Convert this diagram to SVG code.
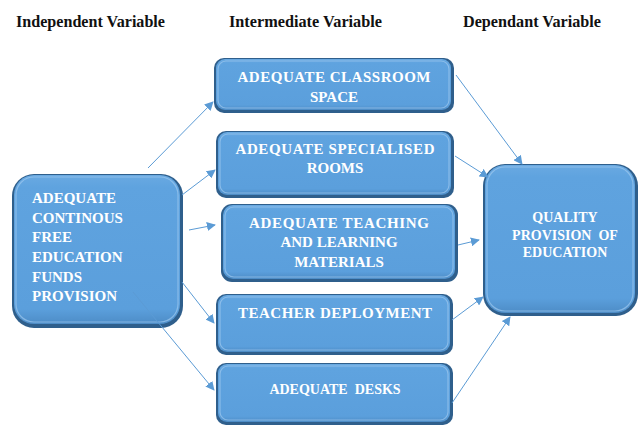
<svg xmlns="http://www.w3.org/2000/svg" width="638" height="425" viewBox="0 0 638 425" font-family="Liberation Serif, Times New Roman, serif" font-weight="bold">
<defs>
<style>
.hd{font-size:16px;fill:#111;}
.bt{font-size:15px;fill:#fff;}
.st{font-size:14px;fill:#fff;}
.edge{fill:#2f5f8c;}
.face{fill:url(#g);}
.hl{fill:none;stroke:#9cc8ee;stroke-width:1.2;opacity:0.7;}
.cn{stroke:#5b9bd5;stroke-width:1;fill:none;marker-end:url(#ah);}
</style>
<linearGradient id="g" x1="0" y1="0" x2="0" y2="1">
<stop offset="0" stop-color="#6aaae2"/>
<stop offset="0.08" stop-color="#5fa3df"/>
<stop offset="0.9" stop-color="#5b9fdc"/>
<stop offset="1" stop-color="#4d8cc6"/>
</linearGradient>
<marker id="ah" viewBox="0 0 10 10" refX="9" refY="5" markerWidth="9" markerHeight="9" markerUnits="userSpaceOnUse" orient="auto">
<path d="M0,0 L10,5 L0,10 z" fill="#5b9bd5"/>
</marker>
</defs>
<rect width="638" height="425" fill="#fff"/>
<g id="headings">
<text class="hd" x="16" y="27" textLength="149" lengthAdjust="spacingAndGlyphs">Independent Variable</text>
<text class="hd" x="229" y="27" textLength="153" lengthAdjust="spacingAndGlyphs">Intermediate Variable</text>
<text class="hd" x="463" y="27" textLength="138" lengthAdjust="spacingAndGlyphs">Dependant Variable</text>
</g>
<g id="n-left">
<rect class="edge" x="12" y="174" width="171" height="154" rx="22"/>
<rect class="face" x="14" y="175" width="166" height="149" rx="20"/>
<rect class="hl" x="16" y="177" width="162" height="145" rx="18"/>
<text class="bt" x="32" y="203">ADEQUATE</text>
<text class="bt" x="32" y="223">CONTINOUS</text>
<text class="bt" x="32" y="242">FREE</text>
<text class="bt" x="32" y="262">EDUCATION</text>
<text class="bt" x="32" y="282">FUNDS</text>
<text class="bt" x="32" y="301">PROVISION</text>
</g>
<g id="n-classroom">
<rect class="edge" x="214" y="58" width="240" height="55" rx="10"/>
<rect class="face" x="216" y="59" width="235" height="51" rx="9"/>
<rect class="hl" x="218" y="61" width="231" height="47" rx="8"/>
<text class="bt" x="334" y="82" text-anchor="middle" textLength="193" lengthAdjust="spacing">ADEQUATE CLASSROOM</text>
<text class="bt" x="334" y="102" text-anchor="middle">SPACE</text>
</g>
<g id="n-specialised">
<rect class="edge" x="216" y="131" width="238" height="67" rx="10"/>
<rect class="face" x="218" y="132" width="233" height="63" rx="9"/>
<rect class="hl" x="220" y="134" width="229" height="59" rx="8"/>
<text class="bt" x="335" y="154" text-anchor="middle" textLength="199" lengthAdjust="spacing">ADEQUATE SPECIALISED</text>
<text class="bt" x="335" y="173" text-anchor="middle">ROOMS</text>
</g>
<g id="n-teaching">
<rect class="edge" x="221" y="204" width="237" height="78" rx="11"/>
<rect class="face" x="223" y="205" width="232" height="74" rx="10"/>
<rect class="hl" x="225" y="207" width="228" height="70" rx="9"/>
<text class="bt" x="339" y="228" text-anchor="middle" textLength="180" lengthAdjust="spacing">ADEQUATE TEACHING</text>
<text class="bt" x="339" y="247" text-anchor="middle">AND LEARNING</text>
<text class="bt" x="339" y="267" text-anchor="middle">MATERIALS</text>
</g>
<g id="n-teacher">
<rect class="edge" x="216" y="294" width="237" height="61" rx="10"/>
<rect class="face" x="218" y="295" width="232" height="57" rx="9"/>
<rect class="hl" x="220" y="297" width="228" height="53" rx="8"/>
<text class="bt" x="335" y="318" text-anchor="middle" textLength="194" lengthAdjust="spacing">TEACHER DEPLOYMENT</text>
</g>
<g id="n-desks">
<rect class="edge" x="216" y="363" width="237" height="62" rx="10"/>
<rect class="face" x="218" y="364" width="232" height="58" rx="9"/>
<rect class="hl" x="220" y="366" width="228" height="54" rx="8"/>
<text class="st" x="335" y="394" text-anchor="middle" xml:space="preserve">ADEQUATE  DESKS</text>
</g>
<g id="n-quality">
<rect class="edge" x="483" y="164" width="155" height="152" rx="22"/>
<rect class="face" x="485" y="165" width="150" height="148" rx="20"/>
<rect class="hl" x="487" y="167" width="146" height="144" rx="18"/>
<text class="st" x="565" y="222" text-anchor="middle">QUALITY</text>
<text class="st" x="565" y="240" text-anchor="middle" xml:space="preserve">PROVISION  OF</text>
<text class="st" x="565" y="257" text-anchor="middle">EDUCATION</text>
</g>
<g id="connectors">
<line class="cn" x1="148" y1="168" x2="213" y2="102"/>
<line class="cn" x1="182" y1="195" x2="215" y2="170"/>
<line class="cn" x1="189" y1="230" x2="215" y2="225"/>
<line class="cn" x1="182" y1="282" x2="214" y2="323"/>
<line class="cn" x1="133" y1="292" x2="214" y2="390"/>
<line class="cn" x1="456" y1="75" x2="522" y2="164"/>
<line class="cn" x1="455" y1="156" x2="488" y2="177"/>
<line class="cn" x1="458" y1="245" x2="479" y2="240"/>
<line class="cn" x1="452" y1="320" x2="483" y2="297"/>
<line class="cn" x1="452" y1="403" x2="510" y2="317"/>
</g>
</svg>
